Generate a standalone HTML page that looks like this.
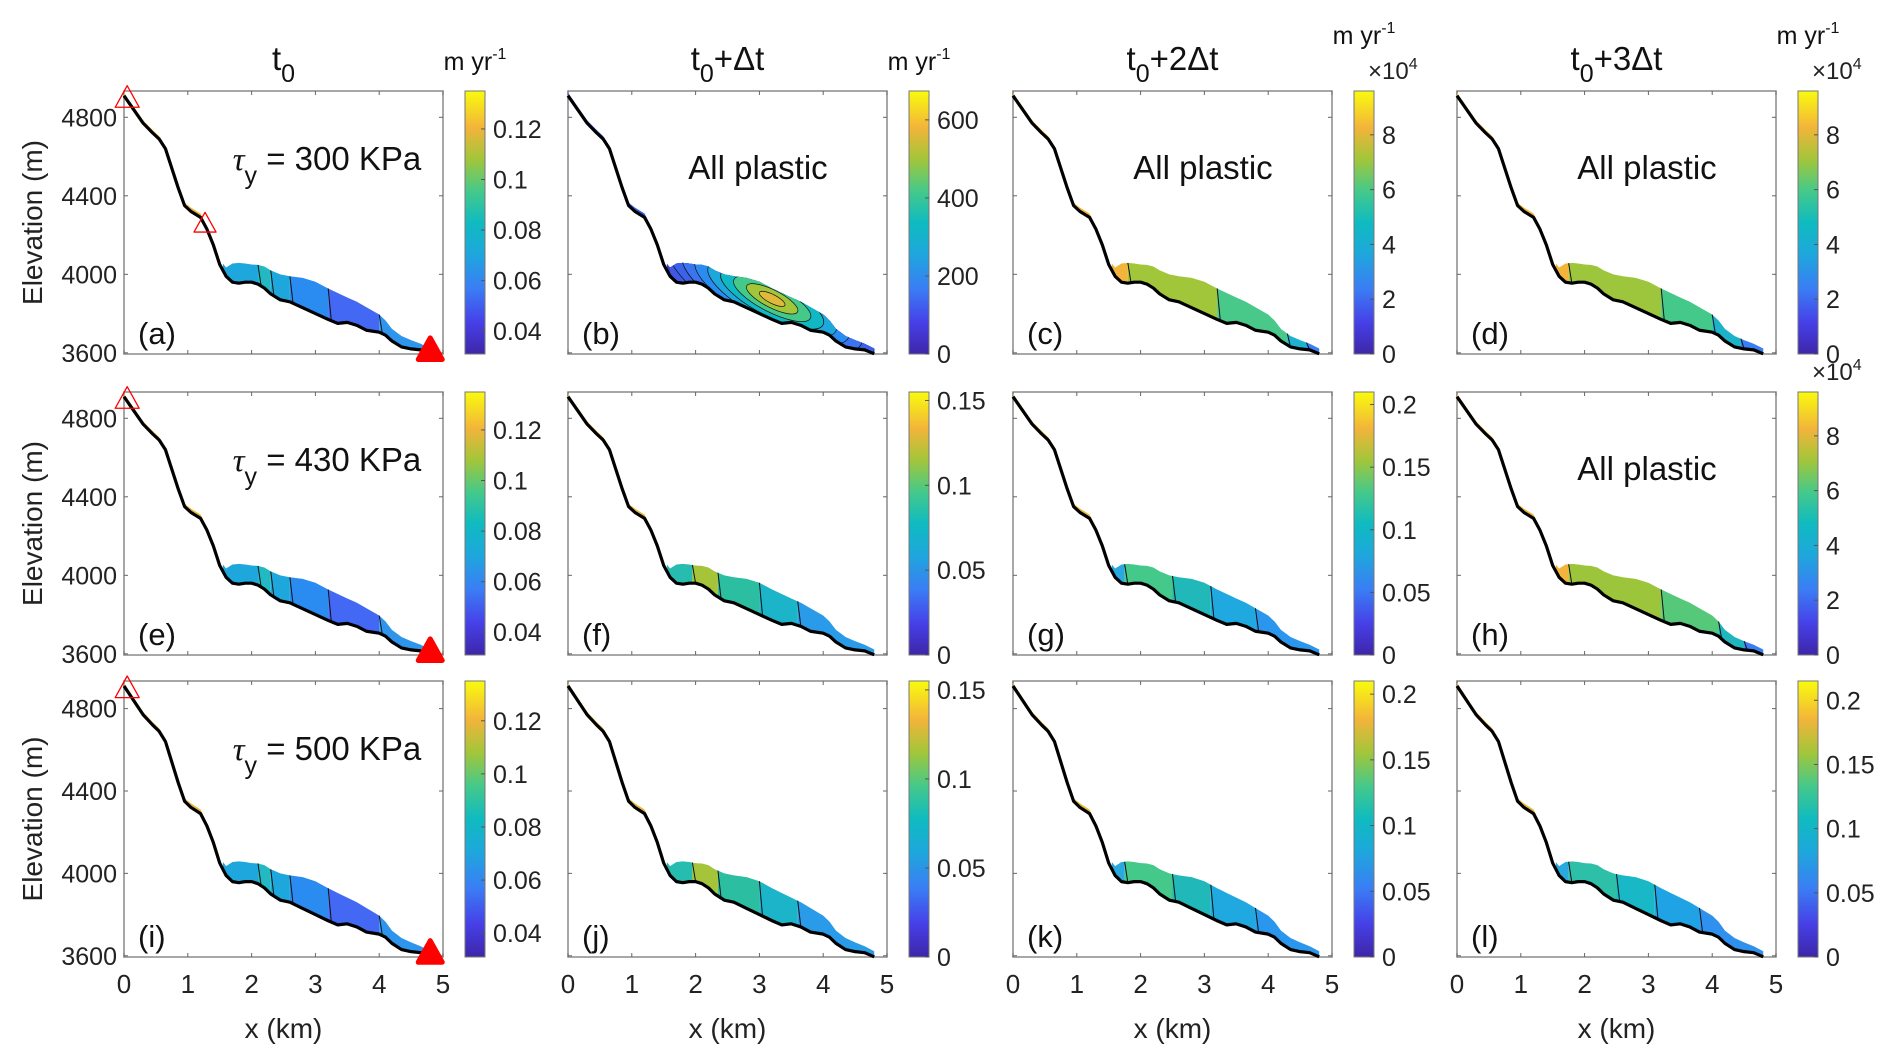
<!DOCTYPE html>
<html><head><meta charset="utf-8"><style>
html,body{margin:0;padding:0;background:#fff;}
svg{display:block;font-family:"Liberation Sans",Arial,sans-serif;}
</style></head><body>
<svg id="fig" width="1892" height="1058" viewBox="0 0 1892 1058" xmlns="http://www.w3.org/2000/svg"></svg>
<script>
// ---- data ----
const bedX = [0,0.15,0.3,0.45,0.55,0.65,0.75,0.85,0.95,1.05,1.2,1.3,1.4,1.5,1.6,1.7,1.8,1.9,2.0,2.1,2.2,2.3,2.45,2.6,2.8,3.0,3.2,3.35,3.5,3.65,3.8,4.0,4.1,4.2,4.35,4.5,4.65,4.8];
const bedZ = [4910,4840,4770,4720,4690,4640,4540,4440,4350,4320,4290,4230,4150,4050,3990,3960,3955,3960,3960,3950,3930,3900,3870,3860,3830,3800,3770,3750,3755,3740,3715,3705,3690,3660,3630,3620,3615,3595];
const surfZ = [4925,4855,4785,4735,4705,4655,4555,4455,4365,4340,4310,4245,4165,4075,4035,4055,4058,4055,4050,4048,4040,4020,4000,3990,3982,3962,3928,3905,3882,3860,3832,3795,3765,3722,3686,3665,3646,3622];
const xTicks = [0,1,2,3,4,5];
const yTicks = [3600,4000,4400,4800];
const colTitles = ["t0","t0+Δt","t0+2Δt","t0+3Δt"];
const panelLetters = ["a","b","c","d","e","f","g","h","i","j","k","l"];
const cbMin = [0.031,0,0,0, 0.031,0,0,0, 0.031,0,0,0];
const cbMax = [0.135,674,9.6,9.6, 0.135,0.155,0.21,9.6, 0.135,0.155,0.21,0.215];
const cbTicks = [
 [0.04,0.06,0.08,0.1,0.12],[0,200,400,600],[0,2,4,6,8],[0,2,4,6,8],
 [0.04,0.06,0.08,0.1,0.12],[0,0.05,0.1,0.15],[0,0.05,0.1,0.15,0.2],[0,2,4,6,8],
 [0.04,0.06,0.08,0.1,0.12],[0,0.05,0.1,0.15],[0,0.05,0.1,0.15,0.2],[0,0.05,0.1,0.15,0.2]];
const cbExp = [false,false,true,true,false,false,false,true,false,false,false,false];
const segEdges = [
 [1.55,2.1,2.3,2.6,3.2,4.0,4.8],[1.55,4.8],[1.55,1.8,3.2,4.3,4.6,4.8],[1.55,1.75,3.2,4.0,4.45,4.8],
 [1.55,2.1,2.3,2.6,3.2,4.0,4.8],[1.55,1.95,2.35,3.0,3.6,4.8],[1.55,1.75,2.5,3.1,3.8,4.8],[1.55,1.75,3.2,4.1,4.5,4.8],
 [1.55,2.1,2.3,2.6,3.2,4.0,4.8],[1.55,1.95,2.35,3.0,3.6,4.8],[1.55,1.75,2.5,3.1,3.8,4.8],[1.55,1.75,2.5,3.1,3.8,4.8]];
const segColors = [
 ["#1ea7dc","#22b9c2","#1ea7dc","#2a8cf0","#4368f4","#2d95ec"],["#3a3ec4"],["#f2b43a","#a2c63a","#48c98a","#1fb1d0","#3a7ef5"],["#f2b43a","#9dc63c","#45c98a","#1cb3c8","#3a7ef5"],
 ["#1ea7dc","#22b9c2","#1ea7dc","#2a8cf0","#4368f4","#2d95ec"],["#26bdb0","#a6c43a","#2cbea0","#1cb4c8","#2a9be8"],["#2aa8e0","#44c98a","#20b8b8","#1fa9e0","#2a96ee"],["#f2b43a","#9cc53c","#55c87a","#20b6c0","#3a7ef5"],
 ["#1ea7dc","#22b9c2","#1ea7dc","#2a8cf0","#4368f4","#2d95ec"],["#26bdb0","#a6c43a","#2cbea0","#1cb4c8","#2a9be8"],["#2aa8e0","#44c98a","#20b8b8","#1fa9e0","#2a96ee"],["#2aa8e0","#2ebfa8","#19b8c6","#1fa3e4","#3090ee"]];
const annotations = ["τ300","All plastic","All plastic","All plastic","τ430","","","All plastic","τ500","","",""];

// ---- layout ----
const colLeft = [124,568,1013,1457], panelW = 319;
const rowTop = [91,392,681], rowH = [263,263,276];
const X0=0,X1=5,Y0=3594,Y1=4934;
const NS="http://www.w3.org/2000/svg";
const svg=document.getElementById('fig');
function mk(tag,attrs,parent){const e=document.createElementNS(NS,tag);for(const k in attrs)e.setAttribute(k,attrs[k]);(parent||svg).appendChild(e);return e;}
function interp(xs,ys,x){for(let i=0;i<xs.length-1;i++){if(x>=xs[i]&&x<=xs[i+1]){const t=(x-xs[i])/(xs[i+1]-xs[i]);return ys[i]+t*(ys[i+1]-ys[i]);}}return ys[ys.length-1];}

const defs=mk('defs',{});
const grad=mk('linearGradient',{id:'parula',x1:0,y1:1,x2:0,y2:0},defs);
[[0,'#3e26a8'],[0.12,'#4640e8'],[0.25,'#3a7ef5'],[0.38,'#1ea7dc'],[0.5,'#0fbbc0'],[0.62,'#45c98a'],[0.74,'#a2c63a'],[0.86,'#f2b43a'],[1,'#f9fb0e']].forEach(s=>mk('stop',{offset:s[0],'stop-color':s[1]},grad));

colTitles.forEach((t,c)=>{
  const cx=colLeft[c]+panelW/2;
  const tx=mk('text',{x:cx,y:70,'font-size':33,'text-anchor':'middle',fill:'#111'});
  
  
  const rest=t.slice(2);
  tx.innerHTML='t<tspan font-size="25" dy="12">0</tspan><tspan dy="-12">'+rest+'</tspan>';
});

for(let p=0;p<12;p++){
  const r=Math.floor(p/4),c=p%4;
  const L=colLeft[c],T=rowTop[r],H=rowH[r];
  const sx=x=>L+(x-X0)/(X1-X0)*panelW;
  const sy=z=>T+H-(z-Y0)/(Y1-Y0)*H;
  const g=mk('g',{});
  
  
  const box=mk('rect',{x:L,y:T,width:panelW,height:H,fill:'#fff',stroke:'#8a8a8a','stroke-width':1.5},g);
  
  
  xTicks.forEach(v=>{const x=sx(v);mk('line',{x1:x,y1:T+H,x2:x,y2:T+H-4,stroke:'#666'},g);mk('line',{x1:x,y1:T,x2:x,y2:T+4,stroke:'#666'},g);
    if(r===2){const t=mk('text',{x:x,y:T+H+36,'font-size':26,'text-anchor':'middle',fill:'#222'},g);t.textContent=v;}});
  yTicks.forEach(v=>{const y=sy(v);mk('line',{x1:L,y1:y,x2:L+4,y2:y,stroke:'#666'},g);mk('line',{x1:L+panelW,y1:y,x2:L+panelW-4,y2:y,stroke:'#666'},g);
    if(c===0){const t=mk('text',{x:L-7,y:y+9,'font-size':25,'text-anchor':'end',fill:'#222'},g);t.textContent=v;}});
  const upper=[];for(let i=0;i<bedX.length;i++)if(bedX[i]<=1.55)upper.push(i);
  let up='';upper.forEach(i=>up+=sx(bedX[i])+','+sy(surfZ[i])+' ');upper.slice().reverse().forEach(i=>up+=sx(bedX[i])+','+sy(bedZ[i])+' ');
  const upc=(p===1)?'#3a5ae8':(p===2||p===3||p===7)?'#f2b43a':'#e8b83a';
  mk('polygon',{points:up,fill:upc},g);
  const edges=segEdges[p],cols=segColors[p];
  for(let s=0;s<edges.length-1;s++){
    const a=edges[s],b=edges[s+1];
    const xs=[a];bedX.forEach(x=>{if(x>a&&x<b)xs.push(x);});xs.push(b);
    let pts='';xs.forEach(x=>pts+=sx(x)+','+sy(interp(bedX,surfZ,x))+' ');
    xs.slice().reverse().forEach(x=>pts+=sx(x)+','+sy(interp(bedX,bedZ,x))+' ');
    const poly=mk('polygon',{points:pts,fill:cols[s]},g);
    
    
    if(s>0){mk('line',{x1:sx(a),y1:sy(interp(bedX,surfZ,a)),x2:sx(a+0.05),y2:sy(interp(bedX,bedZ,a+0.05)),stroke:'#111','stroke-width':1},g);}
  }
  if(p===1){
    const cid='clipb';const cp=mk('clipPath',{id:cid},defs);
    let pts='';const xs=bedX.filter(x=>x>=1.55);
    xs.forEach(x=>pts+=sx(x)+','+sy(interp(bedX,surfZ,x))+' ');xs.slice().reverse().forEach(x=>pts+=sx(x)+','+sy(interp(bedX,bedZ,x))+' ');
    mk('polygon',{points:pts},cp);
    const cg=mk('g',{'clip-path':'url(#'+cid+')'},g);
    const ring=['#3a3ec4','#3b40c8','#3d44d0','#3f4ad8','#4150dc','#4058e4','#3d62ea','#3a74f0','#2a8cf0','#1ea7dc','#10b8c4','#45c98a','#a2c63a','#e0b83a'];
    ring.forEach((col,i)=>{const k=1-i/ring.length;mk('ellipse',{cx:sx(3.2),cy:sy(3875),rx:200*k,ry:62*k,fill:col,stroke:'#111','stroke-width':0.7,transform:'rotate(27 '+sx(3.2)+' '+sy(3875)+')'},cg);});
  }
  let bp='';bedX.forEach((x,i)=>bp+=sx(x)+','+sy(bedZ[i])+' ');
  const bed=mk('polyline',{points:bp,fill:'none',stroke:'#000','stroke-width':3.2,'stroke-linejoin':'round'},g);
  
  
  if(c===0){
    const tri=(x,z,s,fill)=>{const X=sx(x),Y=sy(z);const t=mk('polygon',{points:(X)+','+(Y-s)+' '+(X-s)+','+(Y+s*0.8)+' '+(X+s)+','+(Y+s*0.8),fill:fill?'#f00':'none',stroke:'#f00','stroke-width':fill?5:1.3,'stroke-linejoin':'round'},g);};
    tri(0.05,4900,12,false);
    if(r===0)tri(1.27,4260,11,false);
    tri(4.8,3615,12,true);
  }
  const lb=mk('text',{x:L+14,y:T+H-10,'font-size':31,fill:'#111'},g);
  lb.textContent='('+panelLetters[p]+')';
  
  
  const an=annotations[p];
  if(an){
    const t=mk('text',{x:L+190,y:T+88,'font-size':33,'text-anchor':'middle',fill:'#111'},g);
    
    
    if(an[0]==='τ'){t.setAttribute('x',L+203);t.setAttribute('y',T+79);t.innerHTML='<tspan font-family="Liberation Serif" font-style="italic">τ</tspan><tspan font-size="25" dy="14">y</tspan><tspan dy="-14"> = '+an.slice(1)+' KPa</tspan>';}
    else t.textContent=an;
  }
  const cbx=L+341,cbw=20;
  const cb=mk('rect',{x:cbx,y:T,width:cbw,height:H,fill:'url(#parula)',stroke:'#777','stroke-width':1},g);
  
  
  cbTicks[p].forEach(v=>{const y=T+H-(v-cbMin[p])/(cbMax[p]-cbMin[p])*H;
    mk('line',{x1:cbx+cbw-4,y1:y,x2:cbx+cbw,y2:y,stroke:'#555'},g);
    const t=mk('text',{x:cbx+cbw+8,y:y+9,'font-size':25,fill:'#222'},g);t.textContent=v;
    });
  if(cbExp[p]){const t=mk('text',{x:cbx+14,y:T-12,'font-size':24,fill:'#222'},g);t.innerHTML='×10<tspan font-size="16" dy="-10">4</tspan>';}
  if(r===0){const uy=cbExp[p]?44:70;const t=mk('text',{x:cbx+10,y:uy,'font-size':25,'text-anchor':'middle',fill:'#111'},g);t.innerHTML='m yr<tspan font-size="16" dy="-11">-1</tspan>';}
  if(c===0){const t=mk('text',{x:0,y:0,'font-size':28,'text-anchor':'middle',fill:'#222',transform:'translate(42,'+(T+H/2)+') rotate(-90)'},g);t.textContent='Elevation (m)';}
  if(r===2){const t=mk('text',{x:L+panelW/2,y:1038,'font-size':28,'text-anchor':'middle',fill:'#222'},g);t.textContent='x (km)';}
}
</script>
</body></html>
